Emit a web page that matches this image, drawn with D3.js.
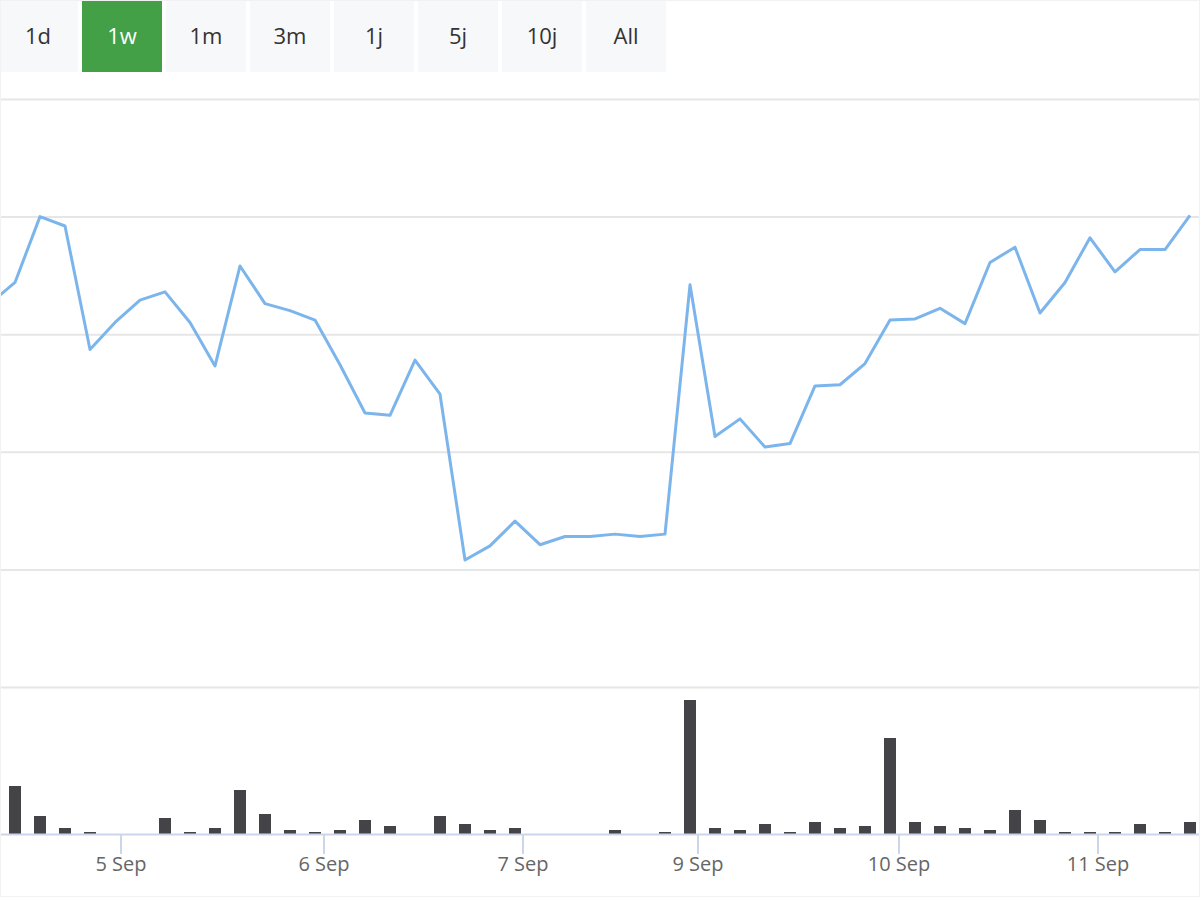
<!DOCTYPE html>
<html><head><meta charset="utf-8">
<script src="https://cdn.jsdelivr.net/npm/d3@7"></script>
<style>body{margin:0;background:#fff}svg{display:block;font-family:"Open Sans",sans-serif}</style>
</head><body><svg width="1200" height="900"></svg>
<script>
// ranges for the zoom buttons
var ranges = ["1d", "1w", "1m", "3m", "1j", "5j", "10j", "All"];
var selected = "1w";

// price, one point every 3 hours (ordinal axis)
var price = [3.26, 3.44, 4.00, 3.92, 2.87, 3.10, 3.29, 3.36, 3.10, 2.73, 3.58, 3.26, 3.20, 3.12, 2.74, 2.33,
  2.31, 2.78, 2.49, 1.08, 1.20, 1.41, 1.21, 1.28, 1.28, 1.30, 1.28, 1.30, 3.42, 2.13, 2.28, 2.04, 2.07,
  2.56, 2.57, 2.75, 3.12, 3.13, 3.22, 3.09, 3.61, 3.74, 3.18, 3.44, 3.82, 3.53, 3.72, 3.72, 4.01];
var volume = [0, 48, 18, 6, 2, 0, 0, 16, 2, 6, 44, 20, 4, 2, 4, 14, 8, 0, 18, 10, 4, 6, 0, 0, 0, 4, 0, 2,
  134, 6, 4, 10, 2, 12, 6, 8, 96, 12, 8, 6, 4, 24, 14, 2, 2, 2, 10, 2, 12];
var tickLabels = ["5 Sep", "6 Sep", "7 Sep", "9 Sep", "10 Sep", "11 Sep"];
var tickIndex = [5.24, 13.36, 21.32, 28.32, 36.36, 44.32];

var svg = d3.select("svg");

var btn = svg.selectAll("g.btn").data(ranges).enter().append("g")
    .attr("transform", function(d, i) { return "translate(" + (i * 84 - 2) + ",0)"; });
btn.append("rect").attr("width", 80).attr("height", 72)
    .attr("fill", function(d) { return d == selected ? "#43a047" : "#f7f8fa"; });
btn.append("text").attr("x", 40).attr("y", 44).attr("text-anchor", "middle")
    .attr("font-size", 22)
    .attr("fill", function(d) { return d == selected ? "#fff" : "#333"; })
    .text(function(d) { return d; });

var x = d3.scaleLinear().domain([0, 48]).range([-10, 1190]);
var y = d3.scaleLinear().domain([0, 5]).range([687, 99]);
var yv = d3.scaleLinear().domain([0, 147]).range([834, 687]);

svg.selectAll("line.grid").data(d3.range(0, 6)).enter().append("line")
    .attr("x1", 0).attr("x2", 1200)
    .attr("y1", function(d) { return y(d) + 0.5; }).attr("y2", function(d) { return y(d) + 0.5; })
    .attr("stroke", "#e6e6e6").attr("stroke-width", 2);

svg.append("clipPath").attr("id", "c").append("rect").attr("x", 0).attr("y", 90).attr("width", 1200).attr("height", 760);

svg.append("g").attr("clip-path", "url(#c)").selectAll("rect").data(volume).enter().append("rect")
    .attr("x", function(d, i) { return x(i) - 6; }).attr("width", 12)
    .attr("y", function(d) { return yv(d); })
    .attr("height", function(d) { return 834 - yv(d); })
    .attr("fill", "#434348");

svg.append("path").datum(price).attr("clip-path", "url(#c)")
    .attr("d", d3.line().x(function(d, i) { return x(i); }).y(function(d) { return y(d); }))
    .attr("fill", "none").attr("stroke", "#7cb5ec").attr("stroke-width", 3).attr("stroke-linejoin", "round");

svg.append("line").attr("x1", 0).attr("x2", 1200).attr("y1", 834.5).attr("y2", 834.5)
    .attr("stroke", "#ccd6eb").attr("stroke-width", 2);

var tk = svg.selectAll("g.tick").data(tickIndex).enter().append("g")
    .attr("transform", function(d) { return "translate(" + x(d) + ",0)"; });
tk.append("line").attr("y1", 835).attr("y2", 854).attr("stroke", "#ccd6eb").attr("stroke-width", 2);
tk.append("text").attr("y", 871).attr("text-anchor", "middle").attr("font-size", 20).attr("fill", "#666")
    .text(function(d, i) { return tickLabels[i]; });

svg.append("rect").attr("x", 0.5).attr("y", 0.5).attr("width", 1199).attr("height", 896)
    .attr("fill", "none").attr("stroke", "#f2f2f2");
</script></body></html>
